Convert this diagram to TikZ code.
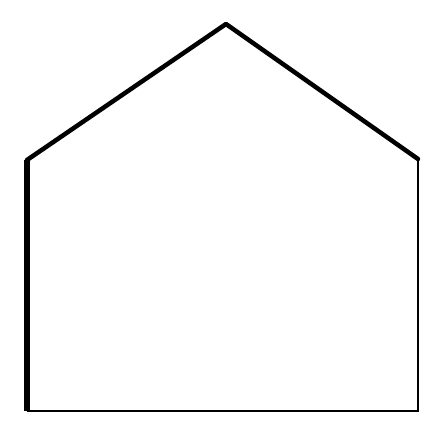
\documentclass[tikz,border=0pt]{standalone}
\begin{document}
\begin{tikzpicture}[x=1pt,y=-1pt,
  thickwall/.style={line width=5.5pt,line cap=butt},
  roofline/.style={line width=4.5pt,line cap=round,line join=round},
  thinwall/.style={line width=2.6pt}]
\useasboundingbox (0,0) rectangle (442,434);
\coordinate (bl) at (27,411);
\coordinate (tl) at (27,160);
\coordinate (apex) at (226,24);
\coordinate (tr) at (418,159);
\coordinate (br) at (418,411);
\draw[roofline] (tl) -- (apex) -- (tr);
\draw[thinwall] (tr) -- (br) -- (bl);
\draw[thickwall] (bl) -- (tl);
\end{tikzpicture}
\end{document}
